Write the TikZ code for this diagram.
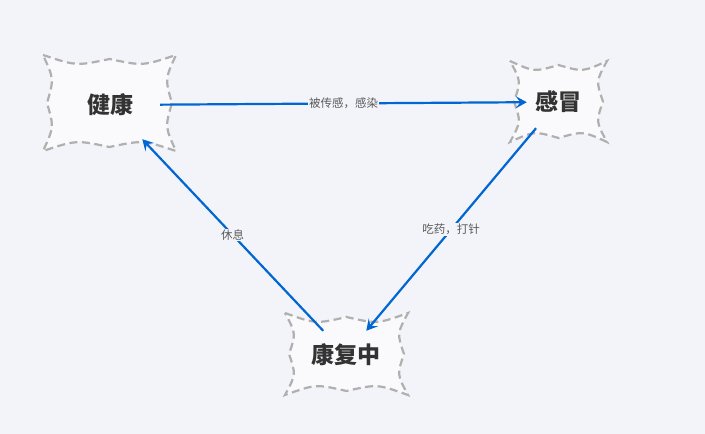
\documentclass[tikz,border=0pt]{standalone}
\usepackage{fontspec}
\newfontfamily\cjk{Noto Sans CJK SC}
\usetikzlibrary{arrows.meta}
\definecolor{bg}{RGB}{243,244,249}
\definecolor{boxfill}{RGB}{250,250,252}
\definecolor{boxline}{RGB}{176,176,176}
\definecolor{arrowblue}{RGB}{0,102,210}
\definecolor{labelgray}{RGB}{90,90,90}
\definecolor{textdark}{RGB}{51,51,51}
\newcommand\wavyshape[4]{%
  \draw[wavy] (#1,#2)
    .. controls ({(3*#1+#3)/4},{#2+11}) .. ({(#1+#3)/2},{#2+4})
    .. controls ({(#1+3*#3)/4},{#2+11}) .. (#3,#2)
    .. controls ({#3-11},{(3*#2+#4)/4}) .. ({#3-4},{(#2+#4)/2})
    .. controls ({#3-11},{(#2+3*#4)/4}) .. (#3,#4)
    .. controls ({(#1+3*#3)/4},{#4-11}) .. ({(#1+#3)/2},{#4-4})
    .. controls ({(3*#1+#3)/4},{#4-11}) .. (#1,#4)
    .. controls ({#1+11},{(#2+3*#4)/4}) .. ({#1+4},{(#2+#4)/2})
    .. controls ({#1+11},{(3*#2+#4)/4}) .. (#1,#2) -- cycle;}
\begin{document}
\begin{tikzpicture}[x=1pt,y=-1pt,
  wavy/.style={draw=boxline, fill=boxfill, line width=2.2pt, dash pattern=on 8pt off 4.5pt},
  statenode/.style={font=\cjk\bfseries\fontsize{23}{27}\selectfont, text=textdark, inner sep=0pt},
  flow/.style={draw=arrowblue, line width=2.2pt, -{Stealth[length=11pt,width=12pt,inset=4.5pt]}},
  flowlabel/.style={font=\cjk\fontsize{11.5}{14}\selectfont, text=labelgray, fill=bg, inner sep=1pt}]
\fill[bg] (0,0) rectangle (705,434);
\useasboundingbox (0,0) rectangle (705,434);
\wavyshape{43}{55}{176}{151}
\wavyshape{510}{61}{607}{142}
\wavyshape{285}{313}{408}{395}
\node[statenode, minimum width=100pt, minimum height=68pt] (jk) at (110,105) {健康};
\node[statenode, minimum width=62pt, minimum height=52pt] (gm) at (558,102) {感冒};
\node[statenode, minimum width=60pt, minimum height=48pt] (kf) at (346,355) {康复中};
\draw[flow] (jk) -- node[flowlabel] {被传感，感染} (gm);
\draw[flow] (gm) -- node[flowlabel] {吃药，打针} (kf);
\draw[flow] (kf) -- node[flowlabel] {休息} (jk);
\end{tikzpicture}
\end{document}
